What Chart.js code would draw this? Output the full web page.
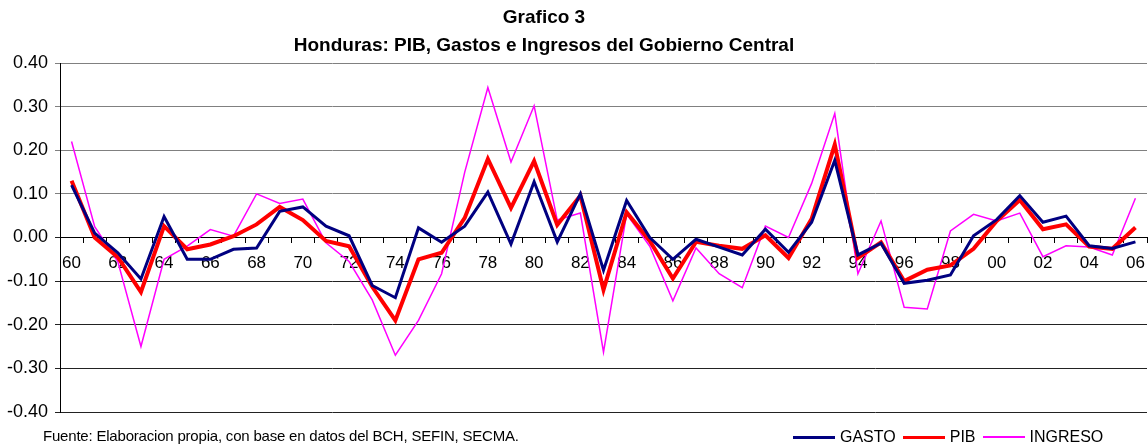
<!DOCTYPE html>
<html>
<head>
<meta charset="utf-8">
<script src="https://cdn.jsdelivr.net/npm/chart.js@4/dist/chart.umd.min.js"></script>
<style>
  html, body { margin: 0; padding: 0; background: #fff; }
  #wrap { position: relative; width: 1148px; height: 445px; }
  #title { position: absolute; left: 244px; width: 600px; top: 3px; text-align: center; font: bold 19px "Liberation Sans", Arial, sans-serif; line-height: 28px; color: #000; }
  #footer { position: absolute; left: 43px; top: 427px; font: 15px "Liberation Sans", Arial, sans-serif; color: #000; letter-spacing: -0.2px; }
  #legend { position: absolute; left: 793px; top: 428px; font: 16px "Liberation Sans", Arial, sans-serif; color: #000; display: flex; align-items: center; }
  #legend span.l { display: inline-block; width: 42px; margin-right: 5px; }
  #legend span.t { margin-right: 7px; }
</style>
</head>
<body>
<div id="wrap">
  <canvas id="chart" width="1148" height="445"></canvas>
  <div id="title">Grafico 3<br>Honduras: PIB, Gastos e Ingresos del Gobierno Central</div>
  <div id="footer">Fuente: Elaboracion propia, con base en datos del BCH, SEFIN, SECMA.</div>
  <div id="legend">
    <span class="l" style="border-top:3px solid #000080"></span><span class="t">GASTO</span>
    <span class="l" style="border-top:3px solid #ff0000"></span><span class="t">PIB</span>
    <span class="l" style="border-top:2px solid #ff00ff"></span><span class="t">INGRESO</span>
  </div>
</div>
<script>
const years = ['60','61','62','63','64','65','66','67','68','69',
  '70','71','72','73','74','75','76','77','78','79',
  '80','81','82','83','84','85','86','87','88','89',
  '90','91','92','93','94','95','96','97','98','99',
  '00','01','02','03','04','05','06']

const gasto = [0.12, 0.01, -0.035, -0.095, 0.048, -0.05, -0.05, -0.027, -0.024, 0.06,
  0.07, 0.026, 0.004, -0.11, -0.138, 0.022, -0.011, 0.026, 0.104, -0.015,
  0.128, -0.01, 0.10, -0.075, 0.085, 0.0, -0.05, -0.004, -0.022, -0.04,
  0.019, -0.034, 0.035, 0.177, -0.04, -0.013, -0.105, -0.098, -0.086, 0.004,
  0.041, 0.096, 0.035, 0.049, -0.019, -0.025, -0.01]

const pib = [0.13, 0.0, -0.045, -0.125, 0.026, -0.027, -0.016, 0.003, 0.03, 0.07,
  0.04, -0.008, -0.02, -0.113, -0.19, -0.05, -0.035, 0.045, 0.18, 0.068,
  0.175, 0.029, 0.096, -0.12, 0.058, -0.008, -0.094, -0.01, -0.019, -0.026,
  0.005, -0.047, 0.043, 0.213, -0.047, -0.011, -0.10, -0.074, -0.064, -0.026,
  0.038, 0.086, 0.019, 0.03, -0.021, -0.026, 0.023]

const ingreso = [0.22, 0.025, -0.055, -0.25, -0.05, -0.02, 0.018, 0.003, 0.10, 0.078,
  0.088, -0.012, -0.055, -0.143, -0.27, -0.19, -0.083, 0.15, 0.344, 0.173,
  0.302, 0.04, 0.056, -0.263, 0.054, -0.02, -0.145, -0.024, -0.083, -0.115,
  0.026, 0.0, 0.124, 0.284, -0.083, 0.038, -0.16, -0.164, 0.015, 0.053,
  0.038, 0.056, -0.044, -0.019, -0.022, -0.04, 0.09]

const yTicks = [-0.4, -0.3, -0.2, -0.1, 0, 0.1, 0.2, 0.3, 0.4]

const font = "'Liberation Sans', Arial, sans-serif"

const config = {
  type: 'line',
  data: {
    labels: years,
    datasets: [
      { label: 'GASTO', data: gasto, borderColor: '#000080', borderWidth: 3 },
      { label: 'PIB', data: pib, borderColor: '#ff0000', borderWidth: 4 },
      { label: 'INGRESO', data: ingreso, borderColor: '#ff00ff', borderWidth: 1.5 }
    ]
  },
  options: {
    responsive: false,
    animation: false,
    events: [],
    elements: {
      point: { radius: 0 },
      line: { tension: 0, borderJoinStyle: 'miter', fill: false }
    },
    layout: { padding: { left: 0, right: 1, top: 63, bottom: 33 } },
    plugins: {
      legend: { display: false },
      tooltip: { enabled: false },
      title: { display: false }
    },
    scales: {
      x: {
        position: { y: 0 },
        offset: true,
        grid: { offset: true, drawOnChartArea: false, drawTicks: true, tickLength: 5, color: '#000' },
        border: { color: '#000', width: 1 },
        ticks: {
          autoSkip: false,
          maxRotation: 0,
          color: '#000',
          padding: 11,
          font: { family: font, size: 17 },
          callback: (v, i) => (i % 2 === 0 ? years[i] : '')
        },
        afterFit: s => {
          s.height = 0
          s.paddingLeft = 0
          s.paddingRight = 0
        }
      },
      y: {
        min: -0.4,
        max: 0.4,
        afterBuildTicks: s => { s.ticks = yTicks.map(v => ({ value: v })) },
        grid: {
          color: c => (c.tick && c.tick.value > 0.001 ? '#808080' : '#222'),
          tickLength: 5,
          lineWidth: 1
        },
        border: { color: '#000', width: 1 },
        ticks: {
          color: '#000',
          padding: 7,
          font: { family: font, size: 18 },
          callback: v => v.toFixed(2)
        },
        afterFit: s => {
          s.width = 60
          s.paddingTop = 0
          s.paddingBottom = 0
        }
      }
    }
  }
}

new Chart(document.getElementById('chart').getContext('2d'), config)
</script>
</body>
</html>
